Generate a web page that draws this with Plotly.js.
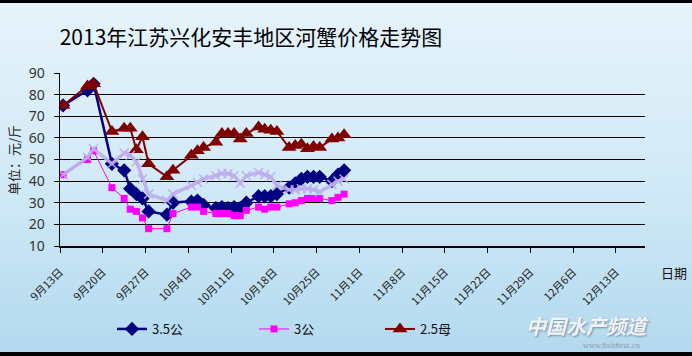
<!DOCTYPE html>
<html>
<head>
<meta charset="utf-8">
<script src="https://cdn.plot.ly/plotly-3.0.1.min.js"></script>
<style>
  html, body { margin: 0; padding: 0; background: #000; }
  #wrap { position: relative; width: 692px; height: 356px; overflow: hidden; background: #000; }
  #bg { position: absolute; left: 0; top: 3px; width: 692px; height: 349px;
        background: linear-gradient(#e6f3fb 0%, #d2eaf7 50%, #b3d9ef 100%); }
  #chart { position: absolute; left: 0; top: 0; width: 692px; height: 356px; }
</style>
</head>
<body>
<div id="wrap"><div id="bg"></div><div id="chart"></div></div>
<script>
// ---- data ----
const dates = ['2013-09-13','2013-09-17','2013-09-18','2013-09-21','2013-09-23','2013-09-24','2013-09-25','2013-09-26','2013-09-27','2013-09-30',
               '2013-10-01','2013-10-04','2013-10-05','2013-10-06','2013-10-08','2013-10-09','2013-10-10','2013-10-11','2013-10-12','2013-10-13',
               '2013-10-15','2013-10-16','2013-10-17','2013-10-18','2013-10-20','2013-10-21','2013-10-22','2013-10-23','2013-10-24','2013-10-25',
               '2013-10-27','2013-10-28','2013-10-29'];
const male35 = [75,82,85,48,45,36.5,34,32,26,24.5, 30,30.5,31,29,27.5,28,27.5,28,27.5,30, 33,33,33,34,37,39,41,42,42,42, 40,43,45];
const male3  = [43,50,54,37,32,27,26,23,18,18, 25,28,28,26,25,25,25,24,24,26.5, 28,27,28,28,29.5,30,31,32,32,32, 31,32.5,34];
const female25 = [75,84,85,63,64.5,64.5,54.5,60.5,48,42, 45,52,54,55.5,58,62,62,62,59.5,62, 65,64,63.5,63,55.5,56.5,57,55,56,55.5, 59.5,60,61.5];
const other = [43,51,55,48,53,52,49,41,34,31, 34,38,39.5,41,42.5,43.5,43.5,42.5,39,42.5, 44,43,42,38,36,36,36.5,36.5,36,35, 38.5,40,41];
const seriesNames = ['3.5公','3公','2.5母'];
const tickDates = ['2013-09-13','2013-09-20','2013-09-27','2013-10-04','2013-10-11','2013-10-18','2013-10-25',
                   '2013-11-01','2013-11-08','2013-11-15','2013-11-22','2013-11-29','2013-12-06','2013-12-13'];
const tickLabels = ['9月13日','9月20日','9月27日','10月4日','10月11日','10月18日','10月25日',
                    '11月1日','11月8日','11月15日','11月22日','11月29日','12月6日','12月13日'];
const titleText = '2013年江苏兴化安丰地区河蟹价格走势图';
const yTitle = '单位：元/斤';
const xTitle = '日期';

// Excel-style date axis: each date sits in the middle of its day slot, ticks at slot boundaries
function shiftHalfDay(d) {
  const t = new Date(d + 'T00:00:00Z').getTime() - 12 * 3600 * 1000;
  return new Date(t).toISOString().slice(0, 19).replace('T', ' ');
}
const tickVals = tickDates.map(shiftHalfDay);

const font = "'Noto Sans CJK SC', 'Noto Sans', sans-serif";

const traces = [
  { x: dates, y: male35, name: seriesNames[0], type: 'scatter', mode: 'lines+markers',
    line: { color: '#000080', width: 2.5 }, marker: { symbol: 'diamond', size: 11, color: '#000080' },
    legend: 'legend' },
  { x: dates, y: male3, name: seriesNames[1], type: 'scatter', mode: 'lines+markers',
    line: { color: '#ff00ff', width: 1 }, marker: { symbol: 'square', size: 7, color: '#ff00ff' },
    legend: 'legend2' },
  { x: dates, y: female25, name: seriesNames[2], type: 'scatter', mode: 'lines+markers',
    line: { color: '#800000', width: 2 }, marker: { symbol: 'triangle-up', size: 13, color: '#800000' },
    legend: 'legend3' },
  { x: dates, y: other, name: '', type: 'scatter', mode: 'lines+markers', showlegend: false,
    line: { color: 'rgba(190,172,236,0.9)', width: 3.5 },
    marker: { symbol: 'x-thin-open', size: 9, line: { color: 'rgba(180,160,230,0.95)', width: 1.5 } } }
];

const L = 60, R = 47, T = 73, B = 110, W = 692, H = 356;
const pw = W - L - R, ph = H - T - B;
const px = v => (v - L) / pw;
const py = v => (H - B - v) / ph;

const legendCommon = { orientation: 'h', bgcolor: 'rgba(0,0,0,0)', font: { family: font, size: 13, color: '#111' },
                       yanchor: 'middle', xanchor: 'left', y: py(329), itemwidth: 30 };

const layout = {
  width: W, height: H,
  margin: { l: L, r: R, t: T, b: B },
  paper_bgcolor: 'rgba(0,0,0,0)', plot_bgcolor: 'rgba(0,0,0,0)',
  title: { text: titleText, x: 251 / W, xanchor: 'center', y: 1 - 38 / H, yanchor: 'middle',
           font: { family: font, size: 21, color: '#000' } },
  xaxis: {
    type: 'date', range: ['2013-09-12 12:00', '2013-12-17 06:00'],
    tickvals: tickVals, ticktext: tickLabels, tickangle: -45,
    tickfont: { family: font, size: 11, color: '#222' }, ticklabelstandoff: 9,
    showgrid: false, showline: true, linecolor: '#000', linewidth: 1.5,
    ticks: 'outside', ticklen: 5, tickcolor: '#000', zeroline: false, fixedrange: true
  },
  yaxis: {
    range: [10, 90], tick0: 10, dtick: 10,
    tickfont: { family: "'Noto Sans', sans-serif", size: 14, color: '#333' }, ticklabelstandoff: 6,
    showgrid: true, gridcolor: '#000', gridwidth: 1,
    showline: true, linecolor: '#000', linewidth: 1.5,
    ticks: 'outside', ticklen: 5, tickcolor: '#000', zeroline: false, fixedrange: true
  },
  legend: Object.assign({}, legendCommon, { x: px(112) }),
  legend2: Object.assign({}, legendCommon, { x: px(254) }),
  legend3: Object.assign({}, legendCommon, { x: px(380) }),
  annotations: [
    { text: yTitle, xref: 'paper', yref: 'paper', x: px(13), y: py(160), textangle: -90,
      xanchor: 'center', yanchor: 'middle',
      showarrow: false, font: { family: font, size: 13, color: '#222' } },
    { text: xTitle, xref: 'paper', yref: 'paper', x: px(674), y: py(272),
      xanchor: 'center', yanchor: 'middle',
      showarrow: false, font: { family: font, size: 13, color: '#111' } },
    { text: '<b><i>中国水产频道</i></b>', xref: 'paper', yref: 'paper', x: px(587), y: py(325),
      xanchor: 'center', yanchor: 'middle',
      showarrow: false, font: { family: font, size: 20, color: 'rgba(255,255,255,0.9)', shadow: '1px 1px 2px #6f8597' } },
    { text: 'www.fishfirst.cn', xref: 'paper', yref: 'paper', x: px(612), y: py(346),
      xanchor: 'center', yanchor: 'middle',
      showarrow: false, font: { family: "'DejaVu Serif', serif", size: 7, color: '#8a98a6' } }
  ],
  showlegend: true
};

Plotly.newPlot('chart', traces, layout, { displayModeBar: false, staticPlot: true });
</script>
</body>
</html>
